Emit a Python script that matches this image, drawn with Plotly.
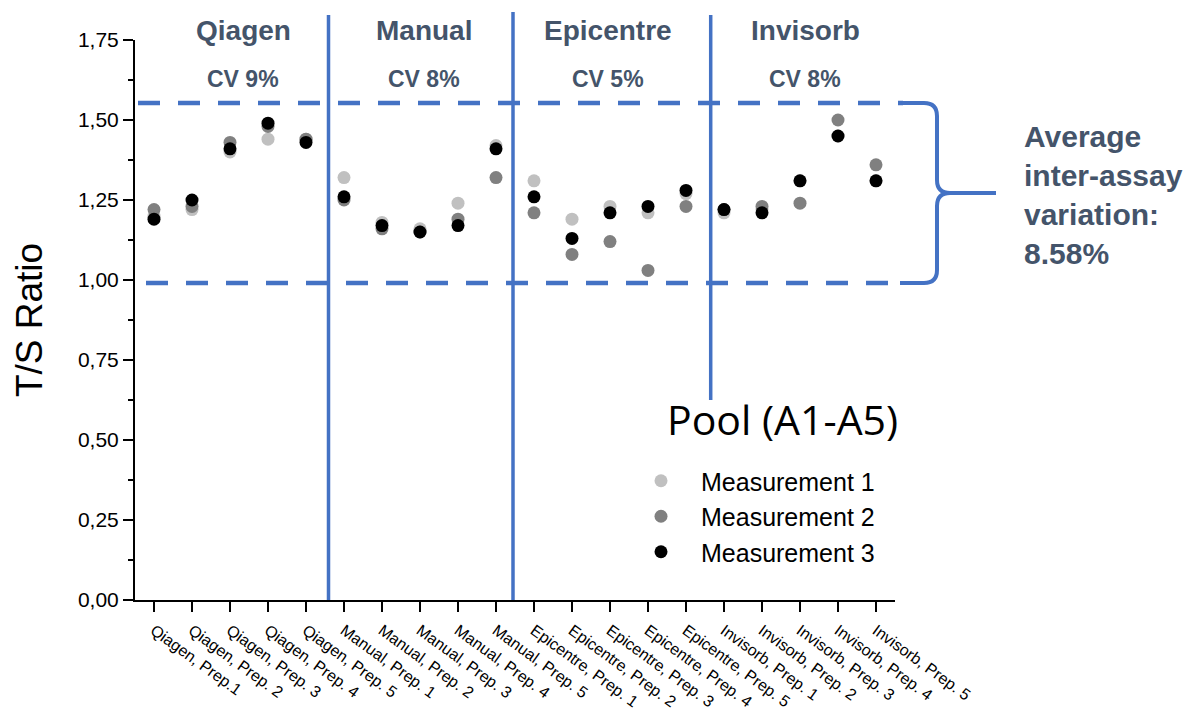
import plotly.graph_objects as go

# ---------------- data ----------------
categories = [
    "Qiagen, Prep.1", "Qiagen, Prep. 2", "Qiagen, Prep. 3", "Qiagen, Prep. 4", "Qiagen, Prep. 5",
    "Manual, Prep. 1", "Manual, Prep. 2", "Manual, Prep. 3", "Manual, Prep. 4", "Manual, Prep. 5",
    "Epicentre, Prep. 1", "Epicentre, Prep. 2", "Epicentre, Prep. 3", "Epicentre, Prep. 4", "Epicentre, Prep. 5",
    "Invisorb, Prep. 1", "Invisorb, Prep. 2", "Invisorb, Prep. 3", "Invisorb, Prep. 4", "Invisorb, Prep. 5",
]
measurement_1 = [1.20, 1.22, 1.40, 1.44, 1.44,
                 1.32, 1.18, 1.16, 1.24, 1.42,
                 1.31, 1.19, 1.23, 1.21, 1.27,
                 1.21, 1.22, 1.31, 1.45, 1.31]
measurement_2 = [1.22, 1.23, 1.43, 1.48, 1.44,
                 1.25, 1.16, 1.15, 1.19, 1.32,
                 1.21, 1.08, 1.12, 1.03, 1.23,
                 1.22, 1.23, 1.24, 1.50, 1.36]
measurement_3 = [1.19, 1.25, 1.41, 1.49, 1.43,
                 1.26, 1.17, 1.15, 1.17, 1.41,
                 1.26, 1.13, 1.21, 1.23, 1.28,
                 1.22, 1.21, 1.31, 1.45, 1.31]
series_names = ["Measurement 1", "Measurement 2", "Measurement 3"]
series_colors = ["#C0C0C0", "#808080", "#000000"]
groups = ["Qiagen", "Manual", "Epicentre", "Invisorb"]
group_cv = ["CV 9%", "CV 8%", "CV 5%", "CV 8%"]

# ---------------- layout geometry (pixels) ----------------
W, H = 1195, 711
L, R, T, B = 135, 300, 40, 111
PW, PH = W - L - R, H - T - B


def px(xp):
    return (xp - L) / PW


def py(yp):
    return (T + PH - yp) / PH


BLUE = "#4472C4"
SLATE = "#44546A"
FONT = "Liberation Sans, Arial, sans-serif"

fig = go.Figure()
for name, vals, col in zip(series_names, [measurement_1, measurement_2, measurement_3], series_colors):
    fig.add_trace(go.Scatter(
        x=categories, y=vals, mode="markers", name=name,
        marker=dict(color=col, size=13, line=dict(width=0)),
    ))

shapes = []
# vertical separators
for xp, ytop, ybot in [(328.5, 15, 600), (513, 12, 600), (710.7, 15, 400)]:
    shapes.append(dict(type="line", xref="paper", yref="paper",
                       x0=px(xp), x1=px(xp), y0=py(ytop), y1=py(ybot),
                       line=dict(color=BLUE, width=3.5)))
# dashed range lines
for x0p, yp in [(138, 103), (146, 283)]:
    shapes.append(dict(type="line", xref="paper", yref="paper",
                       x0=px(x0p), x1=px(903), y0=py(yp), y1=py(yp),
                       line=dict(color=BLUE, width=4.5, dash="22px,18px")))
# curly brace
pts = [("M", 902, 103), ("L", 924, 103), ("Q", 937, 103, 937, 116), ("L", 937, 180),
       ("Q", 937, 193, 950, 193), ("L", 996, 193), ("M", 950, 193), ("Q", 937, 193, 937, 206),
       ("L", 937, 270), ("Q", 937, 283, 924, 283), ("L", 900, 283)]
path = ""
for p in pts:
    cmd = p[0]
    coords = p[1:]
    s = []
    for i in range(0, len(coords), 2):
        s.append(f"{px(coords[i]):.5f},{py(coords[i+1]):.5f}")
    path += cmd + " " + " ".join(s) + " "
shapes.append(dict(type="path", xref="paper", yref="paper", path=path.strip(),
                   line=dict(color=BLUE, width=4)))

annotations = []
for g, cv, xc in zip(groups, group_cv, [243, 424, 608, 805]):
    annotations.append(dict(text=f"<b>{g}</b>", x=px(xc), y=py(30), xref="paper", yref="paper",
                            xanchor="center", yanchor="middle", showarrow=False,
                            font=dict(family=FONT, size=28, color=SLATE)))
    annotations.append(dict(text=f"<b>{cv}</b>", x=px(xc), y=py(79), xref="paper", yref="paper",
                            xanchor="center", yanchor="middle", showarrow=False,
                            font=dict(family=FONT, size=23, color=SLATE)))
annotations.append(dict(text="<b>Average<br>inter-assay<br>variation:<br>8.58%</b>",
                        x=px(1022), y=py(195), xref="paper", yref="paper",
                        xanchor="left", yanchor="middle", align="left", showarrow=False,
                        font=dict(family=FONT, size=30, color=SLATE)))
annotations.append(dict(text="Pool (A1-A5)", x=px(665), y=py(419), xref="paper", yref="paper",
                        xanchor="left", yanchor="middle", showarrow=False,
                        font=dict(family="Open Sans, sans-serif", size=41, color="#000000")))

fig.update_layout(
    width=W, height=H,
    margin=dict(l=L, r=R, t=T, b=B, autoexpand=False),
    paper_bgcolor="white", plot_bgcolor="white",
    separators=",.",
    font=dict(family=FONT, color="black"),
    showlegend=True,
    legend=dict(x=px(621), y=py(458), xref="paper", yref="paper", xanchor="left", yanchor="top",
                font=dict(family=FONT, size=25, color="black"), itemwidth=70,
                bgcolor="rgba(0,0,0,0)", tracegroupgap=0),
    shapes=shapes,
    annotations=annotations,
    xaxis=dict(range=[-0.5, 19.5], showgrid=False, zeroline=False, showline=True,
               linecolor="black", linewidth=2, ticks="outside", ticklen=10, tickwidth=2,
               tickcolor="black", tickangle=36, automargin=False, ticklabelstandoff=3,
               tickfont=dict(family=FONT, size=16, color="black")),
    yaxis=dict(range=[0, 1.75], tickmode="linear", tick0=0, dtick=0.25, tickformat=".2f",
               showgrid=False, zeroline=False, showline=True, linecolor="black", linewidth=2,
               ticks="outside", ticklen=10, tickwidth=2, tickcolor="black", automargin=False,
               minor=dict(dtick=0.125, ticks="outside", ticklen=5, tickwidth=2, tickcolor="black"),
               tickfont=dict(family=FONT, size=21, color="black"),
               title=dict(text="T/S Ratio", standoff=24,
                          font=dict(family=FONT, size=37, color="black"))),
)

fig.write_html("out.html")
